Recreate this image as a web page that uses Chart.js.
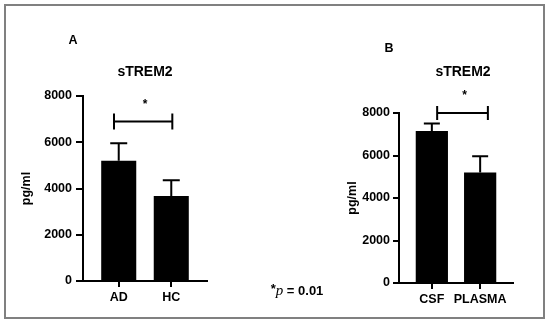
<!DOCTYPE html>
<html>
<head>
<meta charset="utf-8">
<script src="https://cdn.jsdelivr.net/npm/chart.js@4.4.0/dist/chart.umd.min.js"></script>
<style>
    body { margin: 0; background: #fff; font-family: "Liberation Sans", Arial, sans-serif; }
    #wrap { position: relative; width: 550px; height: 324px; overflow: hidden; }
    .frame { position: absolute; left: 4px; top: 4px; width: 537px; height: 311px; border: 2px solid #808080; }
    canvas { position: absolute; top: 0; }
    .lbl { position: absolute; font-weight: bold; color: #000; transform: translate(-50%, -50%); white-space: nowrap; }
</style>
</head>
<body>
<div id="wrap">
    <div class="frame"></div>
    <canvas id="chartA" width="275" height="324" style="left:0"></canvas>
    <canvas id="chartB" width="275" height="324" style="left:275px"></canvas>
    <div class="lbl" style="left:73px;top:40px;font-size:12.5px">A</div>
    <div class="lbl" style="left:145px;top:71px;font-size:14px">sTREM2</div>
    <div class="lbl" style="left:389px;top:48px;font-size:12.5px">B</div>
    <div class="lbl" style="left:463px;top:71px;font-size:14px">sTREM2</div>
    <div class="lbl" style="left:297px;top:290px;font-size:13px"><span style="position:relative;top:-2px">*</span><i style="font-family:'Liberation Serif',serif;font-weight:normal;font-size:15px">p</i> = 0.01</div>
</div>
<script>
// panel A: AD vs HC
const groupsA = ['AD', 'HC'];
const meansA = [5200, 3680];
const semA = [760, 680];
const sigLevelA = 6900;

// panel B: CSF vs PLASMA
const groupsB = ['CSF', 'PLASMA'];
const meansB = [7150, 5200];
const semB = [360, 760];
const sigLevelB = 8000;

const yTicks = [0, 2000, 4000, 6000, 8000];

const errorBars = {
    id: 'errorBars',
    afterDatasetsDraw(chart, args, opts) {
        const { ctx, scales: { x, y } } = chart;
        ctx.save();
        ctx.strokeStyle = '#000';
        ctx.lineWidth = 2;
        opts.means.forEach((m, i) => {
            const px = x.getPixelForValue(i);
            const top = y.getPixelForValue(m + opts.sem[i]);
            ctx.beginPath();
            ctx.moveTo(px, y.getPixelForValue(m));
            ctx.lineTo(px, top);
            ctx.moveTo(px - opts.cap / 2, top);
            ctx.lineTo(px + opts.cap / 2, top);
            ctx.stroke();
        });

        // significance bracket
        const x1 = x.getPixelForValue(opts.from);
        const x2 = x.getPixelForValue(opts.to);
        const by = y.getPixelForValue(opts.level);
        ctx.beginPath();
        ctx.moveTo(x1, by);
        ctx.lineTo(x2, by);
        ctx.moveTo(x1, by - opts.tick / 2);
        ctx.lineTo(x1, by + opts.tick / 2);
        ctx.moveTo(x2, by - opts.tick / 2);
        ctx.lineTo(x2, by + opts.tick / 2);
        ctx.stroke();
        ctx.fillStyle = '#000';
        ctx.font = 'bold 12px "Liberation Sans", Arial, sans-serif';
        ctx.textAlign = 'center';
        ctx.textBaseline = 'middle';
        ctx.fillText('*', (x1 + x2) / 2 + 2, by - 17);
        ctx.restore();
    },
};

function makeChart(id, groups, means, sem, level, cfg) {
    const font = { family: '"Liberation Sans", Arial, sans-serif', size: 12.5, weight: 'bold' };
    return new Chart(document.getElementById(id).getContext('2d'), {
        type: 'bar',
        data: {
            datasets: [
                {
                    data: groups.map((g, i) => ({ x: i, y: means[i] })),
                    backgroundColor: '#000',
                    borderWidth: 0,
                    barPercentage: 0.667,
                    categoryPercentage: 1,
                },
            ],
        },
        options: {
            responsive: false,
            animation: false,
            layout: { padding: { left: cfg.padLeft, top: cfg.top, right: cfg.padRight, bottom: 0 } },
            plugins: {
                legend: { display: false },
                tooltip: { enabled: false },
                errorBars: { means, sem, cap: cfg.cap, tick: cfg.tick, level, from: cfg.from, to: cfg.to },
            },
            scales: {
                x: {
                    type: 'linear',
                    offset: false,
                    min: -0.68,
                    max: groups.length - 1 + 0.68,
                    afterBuildTicks: (s) => { s.ticks = groups.map((g, i) => ({ value: i })); },
                    afterFit: (s) => { s.height = cfg.xHeight; },
                    ticks: { callback: (v) => groups[v], color: '#000', font, padding: 3.5, maxRotation: 0 },
                    grid: { drawOnChartArea: false, offset: false, tickLength: 6, color: '#000', lineWidth: 2 },
                    border: { color: '#000', width: 2 },
                },
                y: {
                    min: 0,
                    max: 8000,
                    afterBuildTicks: (s) => { s.ticks = yTicks.map((v) => ({ value: v })); },
                    afterFit: (s) => { s.width = cfg.yWidth; },
                    ticks: { callback: (v) => String(v), color: '#000', font, padding: cfg.tickPad },
                    grid: { drawOnChartArea: false, tickLength: cfg.tickLen, color: '#000', lineWidth: 2 },
                    border: { color: '#000', width: 2 },
                    title: { display: true, text: 'pg/ml', color: '#000', font, padding: 0 },
                },
            },
        },
        plugins: [errorBars],
    });
}

makeChart('chartA', groupsA, meansA, semA, sigLevelA, {
    padLeft: 19.5, yWidth: 63.5, top: 96, padRight: 68, xHeight: 43,
    cap: 17, tick: 16, from: -0.09, to: 1.02, tickPad: 4, tickLen: 7,
});
makeChart('chartB', groupsB, meansB, semB, sigLevelB, {
    padLeft: 70.5, yWidth: 53.5, top: 113, padRight: 37, xHeight: 41,
    cap: 16, tick: 14, from: 0.11, to: 1.16, tickPad: 3, tickLen: 6,
});
</script>
</body>
</html>
